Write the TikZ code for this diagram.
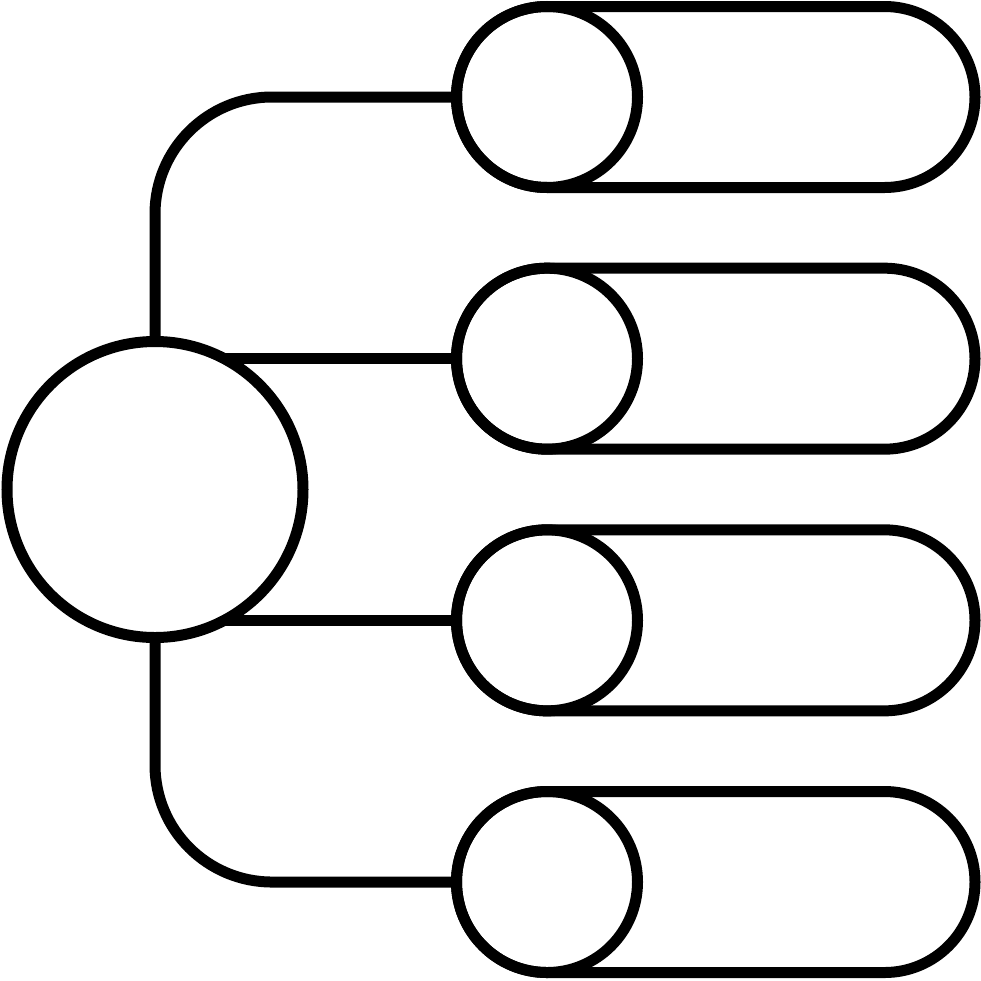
\documentclass[tikz,border=0pt]{standalone}
\usepackage{tikz}
\usetikzlibrary{positioning}

\begin{document}
\begin{tikzpicture}[
          x=1pt, y=-1pt,
          hub/.style={circle, draw, line width=11pt, minimum size=296pt, inner sep=0pt, outer sep=0pt},
          dot/.style={circle, draw, line width=11pt, minimum size=181pt, inner sep=0pt, outer sep=0pt},
          pill/.style={rectangle, draw, line width=11pt, rounded corners=90.5pt, minimum width=518.5pt, minimum height=181pt, inner sep=0pt, outer sep=0pt, anchor=west},
          link/.style={line width=11pt}
        ]
          \useasboundingbox (0,0) rectangle (981,980);

          \node (hub) [hub] at (155,489.5) {};
          \node (dot1) [dot] at (547,97) {};
          \node (dot2) [dot, below=80.67pt of dot1] {};
          \node (dot3) [dot, below=80.67pt of dot2] {};
          \node (dot4) [dot, below=80.67pt of dot3] {};

          \node (pill1) [pill] at (dot1.west) {};
          \node (pill2) [pill] at (dot2.west) {};
          \node (pill3) [pill] at (dot3.west) {};
          \node (pill4) [pill] at (dot4.west) {};

          \draw [link, rounded corners=117pt] (hub.north) |- (dot1.west);
          \draw [link] (hub.62) -- (hub.62 -| dot2.west);
          \draw [link] (hub.-62) -- (hub.-62 -| dot3.west);
          \draw [link, rounded corners=117pt] (hub.south) |- (dot4.west);
        \end{tikzpicture}
\end{document}
